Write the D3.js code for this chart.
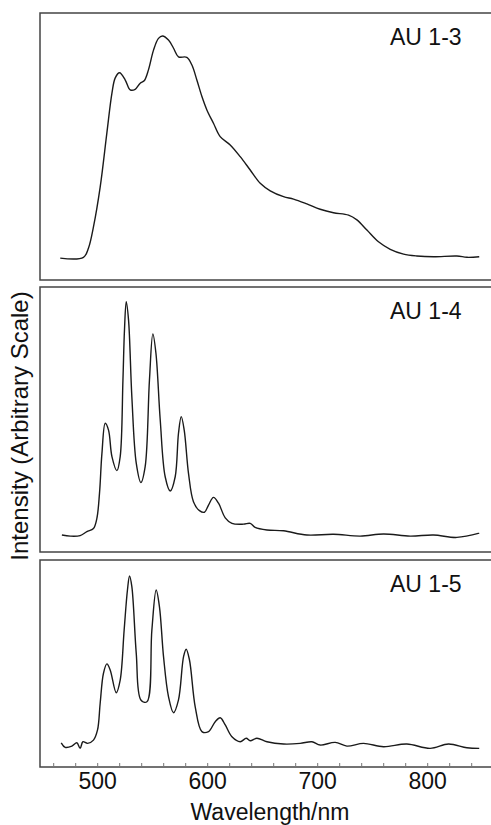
<!DOCTYPE html>
<html>
  <head>
    <title>Emission spectra AU 1-3 / 1-4 / 1-5</title>
    <script src="https://d3js.org/d3.v7.min.js"></script>
    <style>
      body { margin: 0; background: #fff; }
      text { font-family: "Liberation Sans", Arial, sans-serif; fill: #111; }
      .frame { fill: none; stroke: #444; stroke-width: 1.5; }
      .spectrum { fill: none; stroke: #1a1a1a; stroke-width: 1.4; }
      .axis .tick line { stroke: #777; }
      .axis .domain { display: none; }
    </style>
  </head>
  <body>
    <svg width="491" height="825"></svg>
    <script>
      // wavelength (nm) and intensity (arbitrary, 0-100 per panel)
      var wl13 = [466.4, 487.5, 492.1, 496.6, 502.7, 508.8, 513.4, 516.4, 520.3, 525.5, 530, 534.5, 539.1, 542.7, 546.6, 551.2, 555.7, 559.4, 564.8, 569.4, 573.9, 581.5, 586.1, 590.6, 595.2, 599.7, 605.7, 611.8, 620.9, 630, 639.1, 648.2, 657.3, 669.4, 678.5, 690.6, 702.7, 714.8, 728.5, 736.1, 745.2, 755.7, 766.4, 778.5, 790.6, 805.7, 827, 836.1, 847.3];
      var au13 = [8.2, 8.5, 12.0, 19.9, 34.8, 55.1, 70.0, 75.7, 77.6, 74.9, 71.2, 71.4, 73.7, 74.6, 78.7, 86.1, 90.5, 91.4, 89.9, 86.8, 83.6, 83.4, 80.5, 74.9, 68.7, 63.7, 58.7, 53.7, 50.6, 46.2, 41.2, 36.2, 33.4, 31.2, 30.3, 28.5, 26.5, 25.2, 24.3, 22.5, 18.7, 14.3, 11.5, 9.7, 9.0, 8.7, 9.0, 8.5, 8.7];

      var wl14 = [467.9, 475.5, 484.5, 490.6, 496.6, 499.7, 502.1, 504.3, 507.3, 510.3, 513.4, 517.9, 520.9, 523.4, 524.8, 526.4, 528.5, 531.5, 535.5, 539.7, 543.6, 547.5, 550.6, 553.4, 557.3, 561.8, 566.4, 570.9, 573.9, 576.4, 579.1, 583, 587.5, 593, 597.5, 601.2, 605.7, 610.3, 616.4, 622.5, 633, 639.1, 643.6, 654.3, 669.4, 690.6, 714.8, 739.1, 760.3, 784.5, 805.7, 827, 847.3];
      var au14 = [6.4, 6.0, 6.2, 7.7, 8.9, 12.7, 22.2, 37.2, 48.6, 46.0, 36.0, 30.7, 36.0, 64.9, 83.8, 94.5, 87.5, 58.6, 33.5, 26.2, 32.2, 64.9, 82.3, 75.0, 49.8, 28.4, 23.0, 28.4, 44.8, 51.1, 46.0, 29.7, 19.0, 15.6, 15.0, 17.7, 20.6, 18.4, 12.9, 10.8, 10.5, 10.8, 9.3, 8.3, 8.0, 6.4, 6.7, 6.0, 6.8, 6.0, 6.4, 5.5, 7.1];

      var wl15 = [467.3, 470.9, 477, 481.5, 484.5, 487, 491.2, 496.6, 500.3, 502.7, 505.7, 508.8, 511.8, 517.3, 520.9, 524.5, 527.5, 529.4, 531.5, 535.5, 539.7, 545.2, 549.7, 553.6, 556.6, 560.3, 564.8, 569.4, 573.9, 578.5, 580.9, 583.9, 589.1, 595.2, 601.2, 607.3, 611.8, 616.4, 622.5, 630, 635.5, 639.1, 645.2, 654.3, 669.4, 684.5, 695.2, 702.7, 716.4, 727, 742.1, 760.3, 781.5, 802.7, 819.4, 836.1, 847.3];
      var au15 = [11.7, 9.5, 10.1, 11.7, 9.0, 12.2, 11.4, 13.0, 17.9, 30.8, 45.3, 49.8, 46.9, 35.9, 42.0, 66.2, 85.5, 92.3, 87.1, 54.9, 32.4, 31.5, 66.2, 85.5, 77.4, 53.3, 34.0, 26.2, 32.4, 53.3, 56.9, 51.7, 29.1, 17.1, 17.1, 21.9, 23.8, 20.3, 14.6, 12.2, 13.9, 12.7, 13.9, 12.2, 11.1, 11.4, 12.2, 10.6, 11.9, 10.1, 11.4, 9.8, 11.1, 9.0, 11.1, 9.3, 9.0];

      var panelNames = ["AU 1-3", "AU 1-4", "AU 1-5"];
      var xTicks = d3.range(460, 860, 20);
      var xTickLabels = [500, 600, 700, 800];

      var svg = d3.select("svg");
      var left = 40, right = 491;

      var x = d3.scaleLinear().domain([448, 858]).range([left, right]);

      // panel frames (top, bottom) in px
      var panels = [
        { name: panelNames[0], wl: wl13, au: au13, top: 13, bottom: 280 },
        { name: panelNames[1], wl: wl14, au: au14, top: 287, bottom: 552 },
        { name: panelNames[2], wl: wl15, au: au15, top: 560, bottom: 767 }
      ];

      panels.forEach(function (p) {
        var y = d3.scaleLinear().domain([0, 100]).range([p.bottom, p.top]);
        var g = svg.append("g");

        g.append("rect")
          .attr("class", "frame")
          .attr("x", left)
          .attr("y", p.top)
          .attr("width", right + 5 - left)
          .attr("height", p.bottom - p.top);

        var pts = p.wl.map(function (w, i) { return [w, p.au[i]]; });
        var line = d3.line()
          .x(function (d) { return x(d[0]); })
          .y(function (d) { return y(d[1]); })
          .curve(d3.curveCatmullRom.alpha(0.5));

        g.append("path").attr("class", "spectrum").attr("d", line(pts));

        g.append("text")
          .attr("x", 390)
          .attr("y", p.top + 32)
          .style("font-size", "23px")
          .text(p.name);
      });

      // bottom axis, ticks pointing into the plot
      var bottom = panels[2].bottom;
      var axis = svg.append("g")
        .attr("class", "axis")
        .attr("transform", "translate(0," + bottom + ")")
        .call(d3.axisBottom(x)
          .tickValues(xTicks)
          .tickSizeInner(-4)
          .tickSizeOuter(0)
          .tickPadding(6)
          .tickFormat(function (d) { return xTickLabels.indexOf(d) >= 0 ? d : ""; }));
      axis.selectAll("text").style("font-size", "23px").style("fill", "#111");

      svg.append("text")
        .attr("x", 270)
        .attr("y", 820)
        .style("text-anchor", "middle")
        .style("font-size", "23px")
        .text("Wavelength/nm");

      svg.append("text")
        .attr("transform", "translate(28,426) rotate(-90)")
        .style("text-anchor", "middle")
        .style("font-size", "24px")
        .text("Intensity (Arbitrary Scale)");
    </script>
  </body>
</html>
